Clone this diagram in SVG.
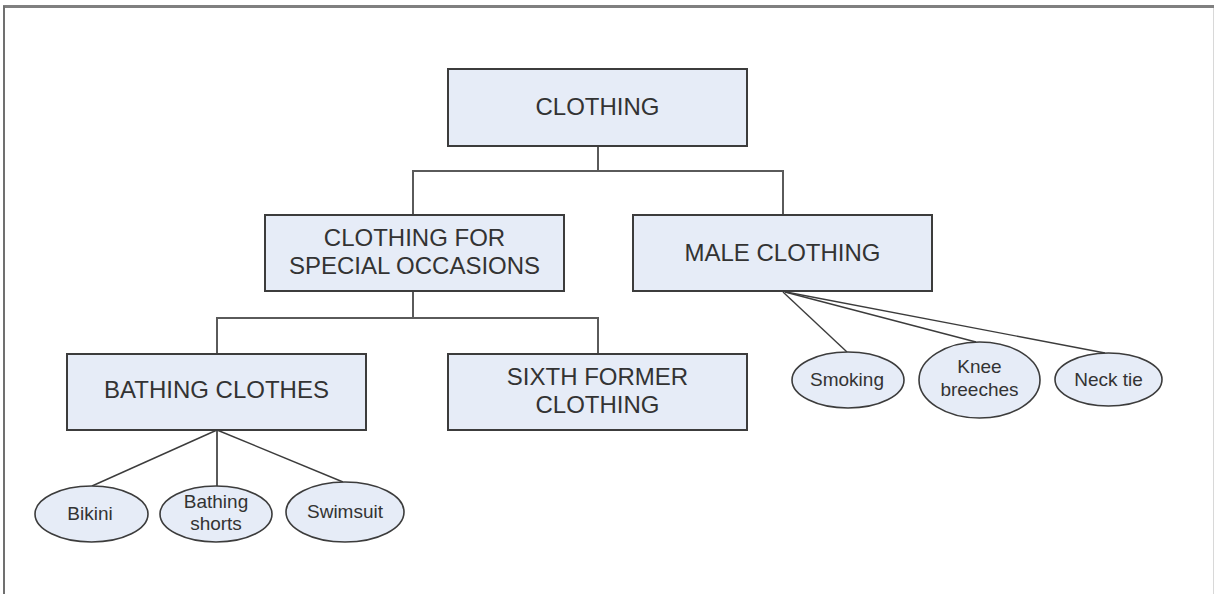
<svg xmlns="http://www.w3.org/2000/svg" width="1214" height="594" viewBox="0 0 1214 594">
  <style>
    .box { fill: #e6ecf7; stroke: #3c3c3c; stroke-width: 2; }
    .oval { fill: #e6ecf7; stroke: #3c3c3c; stroke-width: 1.6; }
    .tree { fill: none; stroke: #5a5a5a; stroke-width: 2; }
    .spoke { fill: none; stroke: #3c3c3c; stroke-width: 1.4; }
    .big { font-family: "Liberation Sans", Arial, sans-serif; font-size: 24px; fill: #333; text-anchor: middle; }
    .small { font-family: "Liberation Sans", Arial, sans-serif; font-size: 19px; fill: #333; text-anchor: middle; }
  </style>

  <!-- frame -->
  <rect x="0" y="0" width="1214" height="594" fill="#ffffff"/>
  <line x1="3" y1="6.5" x2="1214" y2="6.5" stroke="#808080" stroke-width="3"/>
  <line x1="4" y1="6" x2="4" y2="594" stroke="#707070" stroke-width="2"/>
  <line x1="1213.5" y1="8" x2="1213.5" y2="594" stroke="#d8d8d8" stroke-width="1"/>

  <!-- connectors -->
  <g id="connectors">
    <polyline class="tree" points="598,146 598,171"/>
    <polyline class="tree" points="413,215 413,171 783,171 783,215"/>
    <polyline class="tree" points="413,291 413,318"/>
    <polyline class="tree" points="217,354 217,318 598,318 598,354"/>
    <line class="spoke" x1="217" y1="430" x2="92" y2="486"/>
    <line class="tree" x1="217" y1="430" x2="217" y2="486"/>
    <line class="spoke" x1="217" y1="430" x2="343" y2="482"/>
    <line class="spoke" x1="783" y1="292" x2="847" y2="352"/>
    <line class="spoke" x1="785" y1="292" x2="976" y2="342"/>
    <line class="spoke" x1="786" y1="292" x2="1105" y2="353"/>
  </g>

  <g id="clothing">
    <rect class="box" x="448" y="69" width="299" height="77"/>
    <text class="big" x="597.5" y="115">CLOTHING</text>
  </g>

  <g id="special-occasions">
    <rect class="box" x="265" y="215" width="299" height="76"/>
    <text class="big" x="414.5" y="246">CLOTHING FOR</text>
    <text class="big" x="414.5" y="274">SPECIAL OCCASIONS</text>
  </g>

  <g id="male-clothing">
    <rect class="box" x="633" y="215" width="299" height="76"/>
    <text class="big" x="782.5" y="261">MALE CLOTHING</text>
  </g>

  <g id="bathing-clothes">
    <rect class="box" x="67" y="354" width="299" height="76"/>
    <text class="big" x="216.5" y="398">BATHING CLOTHES</text>
  </g>

  <g id="sixth-former">
    <rect class="box" x="448" y="354" width="299" height="76"/>
    <text class="big" x="597.5" y="385">SIXTH FORMER</text>
    <text class="big" x="597.5" y="413">CLOTHING</text>
  </g>

  <g id="bikini">
    <ellipse class="oval" cx="91.5" cy="514" rx="56.5" ry="28"/>
    <text class="small" x="90" y="520">Bikini</text>
  </g>

  <g id="bathing-shorts">
    <ellipse class="oval" cx="216" cy="514" rx="56" ry="28"/>
    <text class="small" x="216" y="508">Bathing</text>
    <text class="small" x="216" y="530">shorts</text>
  </g>

  <g id="swimsuit">
    <ellipse class="oval" cx="345" cy="512" rx="59" ry="30"/>
    <text class="small" x="345" y="518">Swimsuit</text>
  </g>

  <g id="smoking">
    <ellipse class="oval" cx="848" cy="380" rx="56" ry="28"/>
    <text class="small" x="847" y="386">Smoking</text>
  </g>

  <g id="knee-breeches">
    <ellipse class="oval" cx="979.5" cy="380" rx="60.5" ry="38"/>
    <text class="small" x="979.5" y="373">Knee</text>
    <text class="small" x="979.5" y="396">breeches</text>
  </g>

  <g id="neck-tie">
    <ellipse class="oval" cx="1108.5" cy="379.5" rx="53.5" ry="26.5"/>
    <text class="small" x="1108.5" y="386">Neck tie</text>
  </g>
</svg>
